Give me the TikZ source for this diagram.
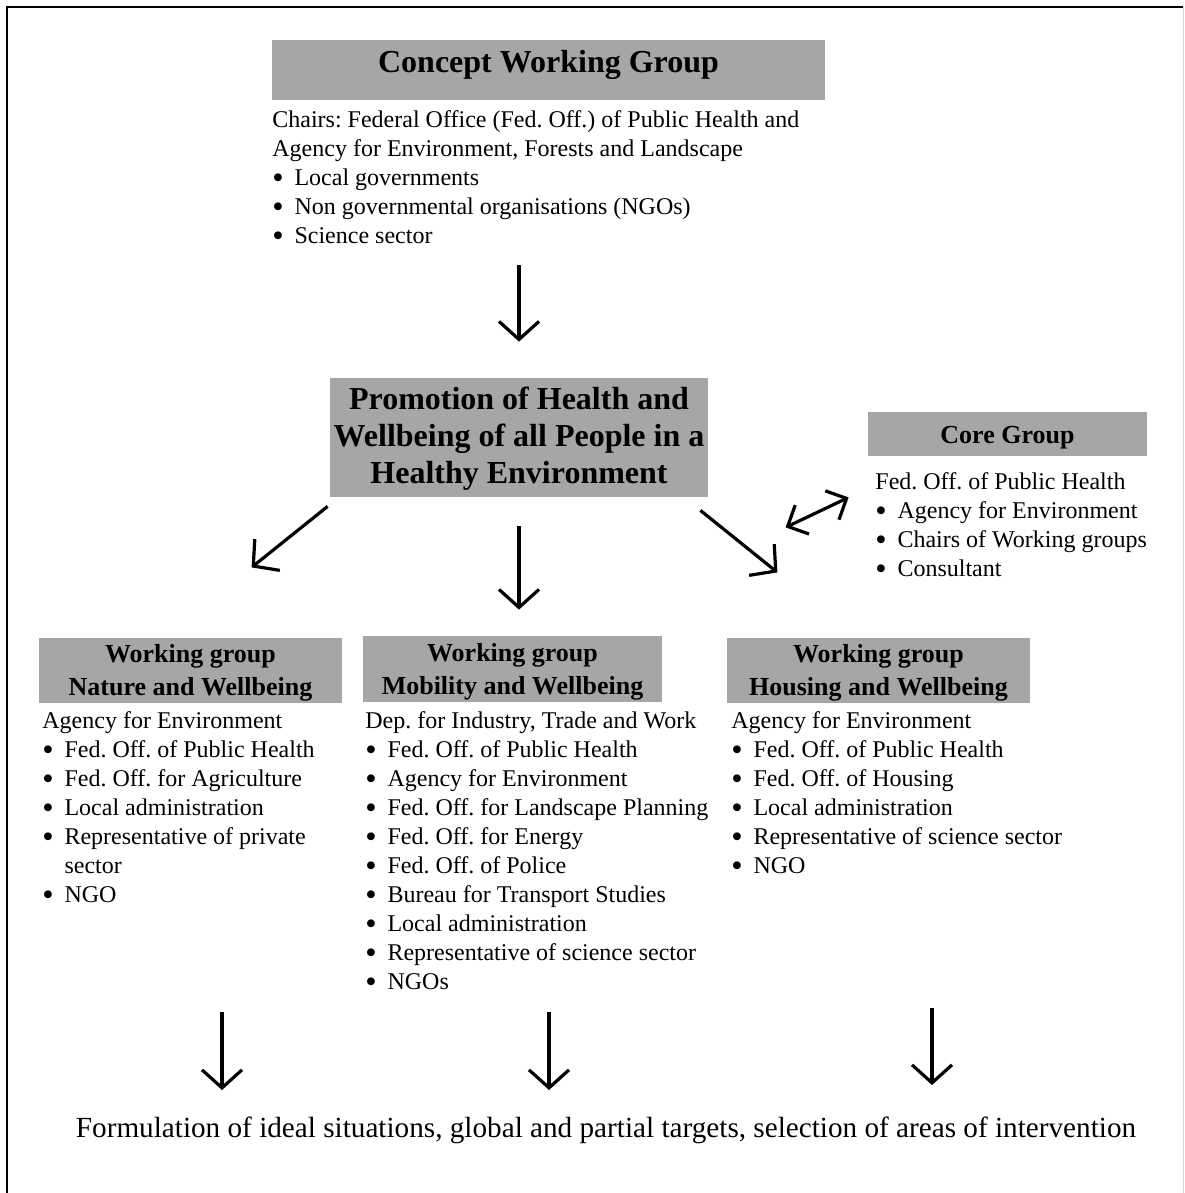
\documentclass[tikz,border=0pt]{standalone}
\usepackage{fontspec}
\setmainfont{Liberation Serif}
\usetikzlibrary{arrows.meta}
\definecolor{boxgray}{RGB}{166,166,166}
\frenchspacing
\newcommand{\mdot}{\raisebox{-1.9pt}{\scalebox{1.35}{\textbullet}}}
\newcommand{\mlist}[1]{\begin{tabular}[t]{@{}l@{\hspace{5.4pt}}l@{}}#1\end{tabular}}
\newcommand{\mhead}[1]{\multicolumn{2}{@{}l@{}}{#1}}
\tikzset{
  headbox/.style={fill=boxgray, inner sep=0pt, align=center},
  grouphead/.style={headbox, text height=28.3pt, font=\bfseries\fontsize{13}{16.5}\selectfont},
  memberlist/.style={anchor=base west, inner sep=0pt, font=\fontsize{12}{14.5}\selectfont},
  flow/.style={line width=1.6pt, -{Straight Barb[length=9pt,width=20pt]}},
  flowboth/.style={line width=1.6pt, {Straight Barb[length=8pt,width=16pt]}-{Straight Barb[length=8pt,width=16pt]}}
}

\begin{document}
\begin{tikzpicture}[x=0.5pt, y=-0.5pt]
  \useasboundingbox (0,0) rectangle (1184,1193);
  \draw[line width=1pt] (7,1193) |- (1183,7);
  \draw[gray!30, line width=0.5pt] (1183,7) -- (1183,1193);

  \node[headbox, minimum width=276.5pt, minimum height=30pt, text depth=8.5pt, font=\bfseries\fontsize{16}{18.5}\selectfont]
    (concept) at (548.5,70) {Concept Working Group};
  \node[memberlist] (chairs) at (272,127) {\mlist{
    \mhead{Chairs: Federal Office (Fed. Off.) of Public Health and}\\
    \mhead{Agency for Environment, Forests and Landscape}\\
    \mdot & Local governments\\
    \mdot & Non governmental organisations (NGOs)\\
    \mdot & Science sector}};

  \node[headbox, minimum width=189pt, minimum height=59.5pt, text height=49.8pt, font=\bfseries\fontsize{16}{18.5}\selectfont]
    (promo) at (519,437.5) {Promotion of Health and\\Wellbeing of all People in a\\Healthy Environment};

  \node[grouphead, minimum width=139.5pt, minimum height=22pt, text height=11.8pt] (core) at (1007.5,434) {Core Group};
  \node[memberlist] (corelist) at (875,489) {\mlist{
    \mhead{Fed. Off. of Public Health}\\
    \mdot & Agency for Environment\\
    \mdot & Chairs of Working groups\\
    \mdot & Consultant}};

  \node[grouphead, minimum width=151.5pt, minimum height=32.5pt] (nature) at (190.5,670.5)
    {Working group\\Nature and Wellbeing};
  \node[grouphead, minimum width=149.5pt, minimum height=33pt] (mobility) at (512.5,669)
    {Working group\\Mobility and Wellbeing};
  \node[grouphead, minimum width=151.5pt, minimum height=32.5pt] (housing) at (878.5,670.5)
    {Working group\\Housing and Wellbeing};

  \node[memberlist] (natlist) at (42,728) {\mlist{
    \mhead{Agency for Environment}\\
    \mdot & Fed. Off. of Public Health\\
    \mdot & Fed. Off. for Agriculture\\
    \mdot & Local administration\\
    \mdot & Representative of private\\
          & sector\\
    \mdot & NGO}};
  \node[memberlist] (moblist) at (365,728) {\mlist{
    \mhead{Dep. for Industry, Trade and Work}\\
    \mdot & Fed. Off. of Public Health\\
    \mdot & Agency for Environment\\
    \mdot & Fed. Off. for Landscape Planning\\
    \mdot & Fed. Off. for Energy\\
    \mdot & Fed. Off. of Police\\
    \mdot & Bureau for Transport Studies\\
    \mdot & Local administration\\
    \mdot & Representative of science sector\\
    \mdot & NGOs}};
  \node[memberlist] (houslist) at (731,728) {\mlist{
    \mhead{Agency for Environment}\\
    \mdot & Fed. Off. of Public Health\\
    \mdot & Fed. Off. of Housing\\
    \mdot & Local administration\\
    \mdot & Representative of science sector\\
    \mdot & NGO}};

  \node[font=\fontsize{14.6}{17}\selectfont, inner sep=0pt] (goal) at (606,1130)
    {Formulation of ideal situations, global and partial targets, selection of areas of intervention};

  \draw[flow, shorten <=6.5pt, shorten >=18pt] (chairs.south -| promo.north) -- (promo.north);
  \draw[flow] ([shift={(-2,9)}]promo.south west) -- ++(-76,61);
  \draw[flow, shorten <=14.5pt, shorten >=13pt] (promo.south) -- (promo.south |- mobility.north);
  \draw[flow] ([shift={(-8,13)}]promo.south east) -- ++(77,62);
  \draw[flowboth] ([shift={(-82,71)}]core.south west) -- ([shift={(-19,41)}]core.south west);

  \draw[flow] ([shift={(-384,-118)}]goal.center) -- ++(0,78);
  \draw[flow] ([shift={(-57,-118)}]goal.center) -- ++(0,78);
  \draw[flow] ([shift={(326,-122)}]goal.center) -- ++(0,77);
\end{tikzpicture}
\end{document}
